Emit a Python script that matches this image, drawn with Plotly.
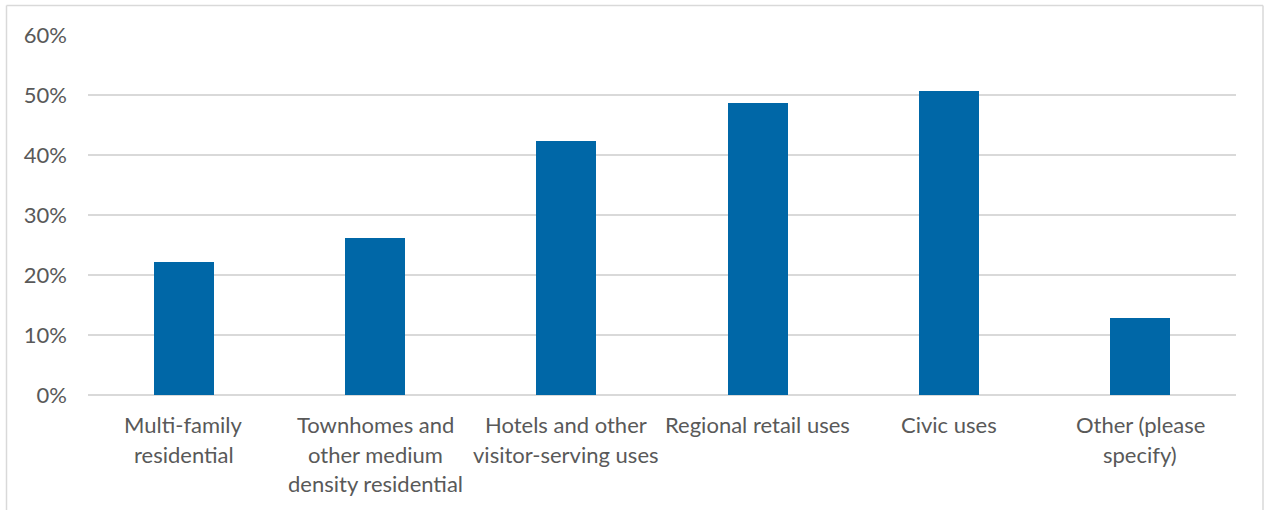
import plotly.graph_objects as go

# Survey results: share of respondents selecting each use
categories = [
    "Multi-family<br>residential",
    "Townhomes and<br>other medium<br>density residential",
    "Hotels and other<br>visitor-serving uses",
    "Regional retail uses",
    "Civic uses",
    "Other (please<br>specify)",
]
shares = [0.222, 0.262, 0.423, 0.487, 0.507, 0.128]
y_ticks = [0, 0.1, 0.2, 0.3, 0.4, 0.5, 0.6]
y_tick_labels = ["0%", "10%", "20%", "30%", "40%", "50%", "60%"]

W, H = 1264, 510
M_L, M_R, M_T, M_B = 88, 28, 35, 115
FONT = "Lato"
FONT_SIZE = 22
TEXT_COLOR = "#595959"
GRID_COLOR = "#d9d9d9"

fig = go.Figure(
    go.Bar(
        x=list(range(len(categories))),
        y=shares,
        width=0.314,
        marker=dict(color="#0067a7", line=dict(width=0)),
        hoverinfo="skip",
    )
)

# Category labels, one annotation per line for Excel-like line spacing
annotations = []
for i, label in enumerate(categories):
    for j, line in enumerate(label.split("<br>")):
        annotations.append(
            dict(
                x=i, xref="x", y=0, yref="paper",
                yanchor="top", xanchor="center",
                yshift=-14 - j * 29.5,
                text=line, showarrow=False,
                font=dict(family=FONT, size=FONT_SIZE, color=TEXT_COLOR),
            )
        )

# Light chart-area border
pw = W - M_L - M_R
ph = H - M_T - M_B
def px_x(x):
    return (x - M_L) / pw
def px_y(y):
    return (H - M_B - y) / ph

shapes = [
    dict(type="line", xref="paper", yref="paper",
         x0=px_x(6.5), x1=px_x(6.5), y0=px_y(5.5), y1=px_y(520),
         line=dict(color=GRID_COLOR, width=1.5)),
    dict(type="line", xref="paper", yref="paper",
         x0=px_x(6.5), x1=px_x(1263), y0=px_y(5.5), y1=px_y(5.5),
         line=dict(color=GRID_COLOR, width=1.5)),
    dict(type="line", xref="paper", yref="paper",
         x0=px_x(1263), x1=px_x(1263), y0=px_y(5.5), y1=px_y(520),
         line=dict(color=GRID_COLOR, width=1.5)),
]

fig.update_layout(
    width=W, height=H,
    margin=dict(l=M_L, r=M_R, t=M_T, b=M_B, pad=0),
    paper_bgcolor="white", plot_bgcolor="white",
    showlegend=False,
    bargap=0,
    annotations=annotations,
    shapes=shapes,
    xaxis=dict(
        range=[-0.5, len(categories) - 0.5],
        showticklabels=False, showgrid=False, zeroline=False,
        showline=False, fixedrange=True,
    ),
    yaxis=dict(
        range=[0, 0.6],
        tickvals=y_ticks, ticktext=y_tick_labels,
        tickfont=dict(family=FONT, size=FONT_SIZE, color=TEXT_COLOR),
        ticklabelstandoff=20,
        showgrid=True, gridcolor=GRID_COLOR, gridwidth=1.5,
        zeroline=True, zerolinecolor=GRID_COLOR, zerolinewidth=1.5,
        showline=False, fixedrange=True,
    ),
)

fig.write_html("out.html")
